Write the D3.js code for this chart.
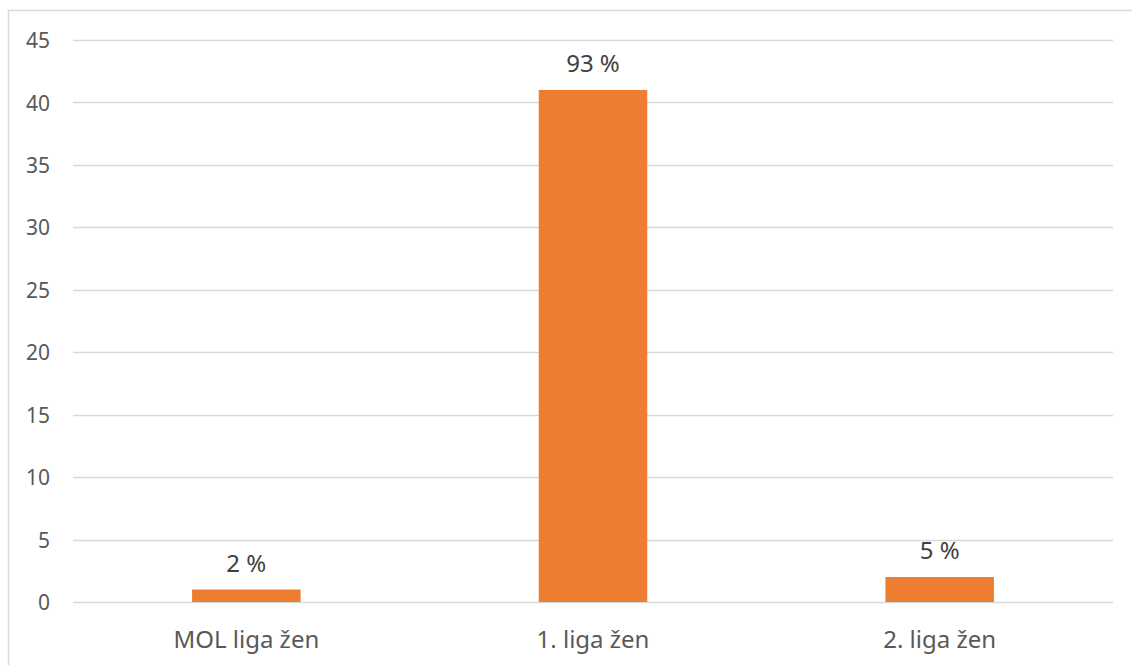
<!DOCTYPE html>
<html>
<head>
<meta charset="utf-8">
<script src="https://cdn.jsdelivr.net/npm/d3@7"></script>
<style>
  html, body { margin: 0; padding: 0; background: #fff; }
  svg { display: block; }
  text { font-family: "Noto Sans", "Open Sans", sans-serif; fill: #595959; }
</style>
</head>
<body>
<svg id="chart" width="1132" height="665"></svg>
<script>
// Number of players by league
const categories = ["MOL liga žen", "1. liga žen", "2. liga žen"];
const counts = [1, 41, 2];
const yTicks = [0, 5, 10, 15, 20, 25, 30, 35, 40, 45];

const W = 1132, H = 665;
const margin = { top: 40, right: 19, bottom: 63, left: 73 };
const svg = d3.select("#chart");

// outer chart frame (top and left edges are visible)
svg.append("rect")
  .attr("x", 8.5).attr("y", 10.5)
  .attr("width", W + 10).attr("height", H + 10)
  .attr("fill", "none").attr("stroke", "#d9d9d9").attr("stroke-width", 1.5);

const x = d3.scaleBand()
  .domain(categories)
  .range([margin.left, W - margin.right])
  .padding(0);

const y = d3.scaleLinear()
  .domain([0, 45])
  .range([H - margin.bottom, margin.top]);

// horizontal gridlines
svg.append("g")
  .selectAll("line")
  .data(yTicks)
  .join("line")
  .attr("x1", margin.left).attr("x2", W - margin.right)
  .attr("y1", d => Math.round(y(d)) + 0.5).attr("y2", d => Math.round(y(d)) + 0.5)
  .attr("stroke", "#d9d9d9").attr("stroke-width", 1.3);

// y axis labels
const yAxis = d3.axisLeft(y).tickValues(yTicks).tickSize(0).tickPadding(0);
const gy = svg.append("g")
  .attr("transform", `translate(${margin.left - 23},0)`)
  .call(yAxis);
gy.select(".domain").remove();
gy.selectAll("text")
  .attr("font-size", 21)
  .attr("dy", "0.36em")
  .style("font-family", "'Noto Sans', sans-serif")
  .attr("fill", "#595959");

// x axis labels
const xAxis = d3.axisBottom(x).tickSize(0).tickPadding(0);
const gx = svg.append("g")
  .attr("transform", `translate(0,${H - margin.bottom})`)
  .call(xAxis);
gx.select(".domain").remove();
gx.selectAll("text")
  .attr("font-size", 24)
  .attr("dy", 0)
  .attr("y", 46)
  .style("font-family", "'Noto Sans', sans-serif")
  .attr("fill", "#595959");

// bars
const barW = x.bandwidth() * 0.313;
const total = d3.sum(counts);
const data = categories.map((c, i) => ({ c, v: counts[i] }));

svg.append("g")
  .selectAll("rect")
  .data(data)
  .join("rect")
  .attr("x", d => x(d.c) + (x.bandwidth() - barW) / 2)
  .attr("y", d => y(d.v))
  .attr("width", barW)
  .attr("height", d => y(0) - y(d.v))
  .attr("fill", "#ed7d31");

// share of total above each bar
svg.append("g")
  .selectAll("text")
  .data(data)
  .join("text")
  .attr("x", d => x(d.c) + x.bandwidth() / 2)
  .attr("y", d => y(d.v) - 18)
  .attr("text-anchor", "middle")
  .attr("font-size", 24)
  .style("fill", "#404040")
  .text(d => Math.round(d.v / total * 100) + " %");
</script>
</body>
</html>
